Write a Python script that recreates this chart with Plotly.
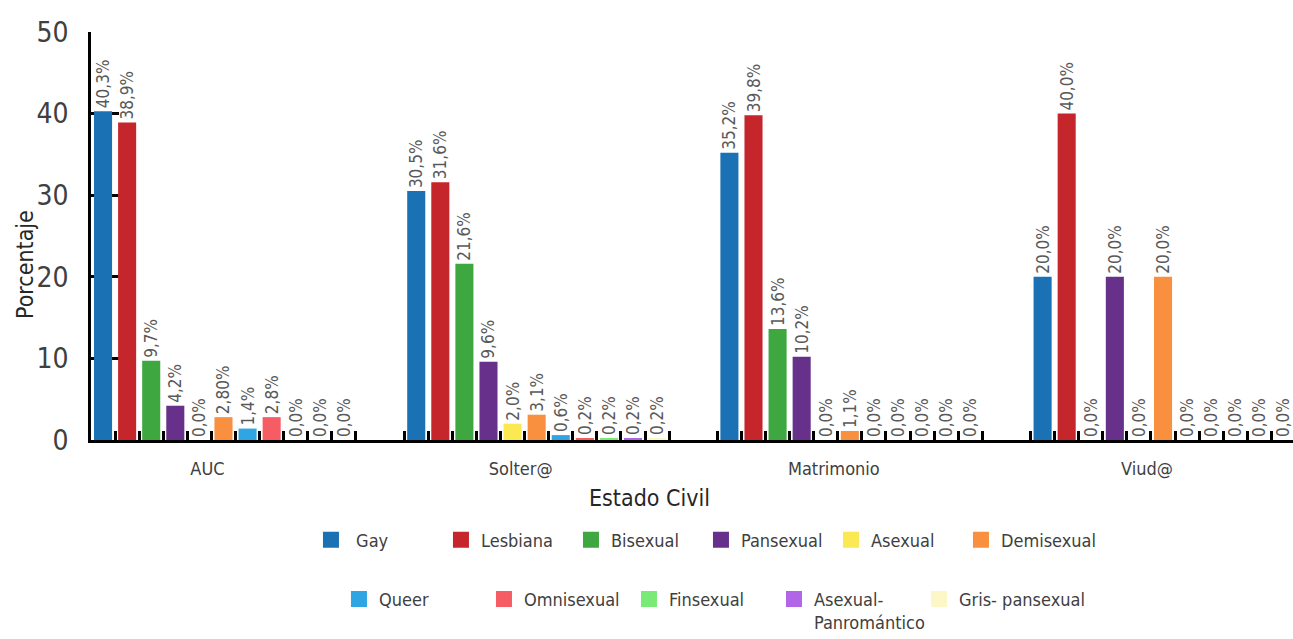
import plotly.graph_objects as go

estado_civil = ["AUC", "Solter@", "Matrimonio", "Viud@"]

gay = [40.3, 30.5, 35.2, 20.0]
lesbiana = [38.9, 31.6, 39.8, 40.0]
bisexual = [9.7, 21.6, 13.6, 0.0]
pansexual = [4.2, 9.6, 10.2, 20.0]
asexual = [0.0, 2.0, 0.0, 0.0]
demisexual = [2.8, 3.1, 1.1, 20.0]
queer = [1.4, 0.6, 0.0, 0.0]
omnisexual = [2.8, 0.2, 0.0, 0.0]
finsexual = [0.0, 0.2, 0.0, 0.0]
asexual_panromantico = [0.0, 0.2, 0.0, 0.0]
gris_pansexual = [0.0, 0.2, 0.0, 0.0]

y_ticks = [0, 10, 20, 30, 40, 50]

# (legend text, values, colour, legend row)
series = [
    (" Gay", gay, "#1a72b4", "legend"),
    ("Lesbiana", lesbiana, "#c5262c", "legend"),
    ("Bisexual", bisexual, "#3ea73f", "legend"),
    ("Pansexual", pansexual, "#67308a", "legend"),
    ("Asexual", asexual, "#fbe852", "legend"),
    ("Demisexual", demisexual, "#f8903f", "legend"),
    ("Queer", queer, "#2fa5e3", "legend2"),
    ("Omnisexual", omnisexual, "#f55c64", "legend2"),
    ("Finsexual", finsexual, "#79ea78", "legend2"),
    ("Asexual-<br>Panromántico", asexual_panromantico, "#b066e6", "legend2"),
    ("Gris- pansexual", gris_pansexual, "#fdf6c6", "legend2"),
]

FONT = "Liberation Sans Narrow, DejaVu Sans Condensed, Arial Narrow, sans-serif"
BARGAP = 0.154
X_RANGE = [-0.423, 3.415]


def fmt(v):
    return f"{v:.1f}".replace(".", ",") + "%"


fig = go.Figure()

for i, (name, vals, color, leg) in enumerate(series):
    labels = [fmt(v) for v in vals]
    if vals is demisexual:
        labels[0] = "2,80%"  # written this way in the source chart
    fig.add_trace(go.Bar(
        x=estado_civil, y=vals, name=name.strip(),
        marker_color=color, marker_line_width=0,
        text=labels, textposition="outside", textangle=-90,
        constraintext="none", cliponaxis=True,
        textfont=dict(size=17, color="#595959", family=FONT),
        showlegend=False,
    ))
    # last entry of each legend row gets room for its text
    last_in_row = i == len(series) - 1 or series[i + 1][3] != leg
    # legend swatch with a bigger square than the bar icon
    fig.add_trace(go.Scatter(
        x=[None], y=[None], mode="markers", name=name,
        marker=dict(symbol="square", size=20, color=color),
        xaxis="x2", legend=leg, hoverinfo="skip",
        legendwidth=160 if last_in_row else None,
    ))

# small ticks at every bar boundary, like the original axis
n = len(series)
group_w = 1 - BARGAP
slot = group_w / n
boundaries = [c - group_w / 2 + k * slot
              for c in range(len(estado_civil)) for k in range(n + 1)]

fig.update_layout(
    width=1293, height=639,
    margin=dict(l=91, r=0, t=32, b=199, autoexpand=False),
    paper_bgcolor="white", plot_bgcolor="white",
    font=dict(family=FONT, color="#404040"),
    barmode="group", bargap=BARGAP, bargroupgap=0.25,
    xaxis=dict(
        type="category", range=X_RANGE, showgrid=False, zeroline=False,
        showline=True, linecolor="black", linewidth=2.5,
        ticks="", tickfont=dict(size=18, color="#404040"),
        ticklabelshift=-16, ticklabelstandoff=11, layer="below traces",
    ),
    xaxis2=dict(
        overlaying="x", anchor="y", side="bottom", range=X_RANGE,
        showgrid=False, zeroline=False, showline=False,
        showticklabels=False, ticks="inside", ticklen=9, tickwidth=2.5,
        tickcolor="black", tickmode="array", tickvals=boundaries,
        layer="below traces",
    ),
    yaxis=dict(
        range=[0, 50], tickmode="array", tickvals=y_ticks,
        showgrid=False, zeroline=False,
        showline=True, linecolor="black", linewidth=2.5,
        ticks="inside", ticklen=28, tickwidth=2.5, tickcolor="black",
        tickfont=dict(size=28, color="#404040"), ticklabelstandoff=14,
        layer="below traces",
    ),
    legend=dict(
        orientation="h", x=0.183, y=-0.245, xanchor="left", yanchor="middle",
        entrywidth=85, entrywidthmode="pixels", itemsizing="trace",
        font=dict(size=18, color="#404040"), bgcolor="rgba(0,0,0,0)",
    ),
    legend2=dict(
        orientation="h", x=0.2063, y=-0.345, xanchor="left", yanchor="top",
        entrywidth=100, entrywidthmode="pixels", itemsizing="trace",
        valign="top",
        font=dict(size=18, color="#404040"), bgcolor="rgba(0,0,0,0)",
    ),
    annotations=[
        dict(text="Porcentaje", xref="paper", yref="paper",
             x=-0.0549, y=0.429, xanchor="center", yanchor="middle",
             textangle=-90, showarrow=False,
             font=dict(size=23, color="#262626")),
        dict(text="Estado Civil", xref="paper", yref="paper",
             x=0.465, y=-0.142, xanchor="center", yanchor="middle",
             showarrow=False, font=dict(size=23, color="#262626")),
    ],
)

# the page's default body margin would shift the figure by 8px
fig.write_html("out.html", config={"displayModeBar": False},
               post_script="document.body.style.margin='0';")
